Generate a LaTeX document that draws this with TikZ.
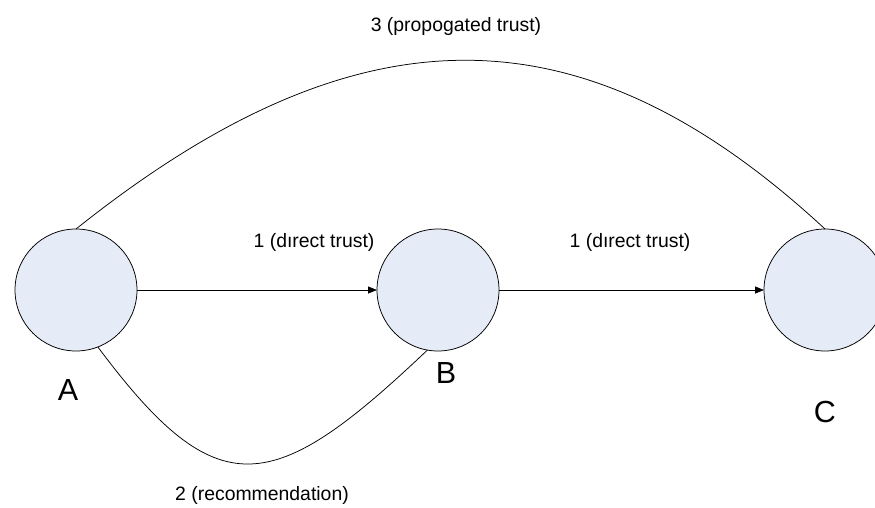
\documentclass[tikz,border=0pt]{standalone}
\usepackage{fontspec}
\setmainfont{Liberation Sans}
\usetikzlibrary{positioning}
\usetikzlibrary{arrows.meta}

\definecolor{peerfill}{RGB}{230,236,247}

\begin{document}
\begin{tikzpicture}[x=1pt,y=-1pt,>={Triangle[length=9pt,width=7pt]},line width=0.75pt,
	peer/.style={circle,draw=black,fill=peerfill,minimum size=122pt,inner sep=0pt,outer sep=0pt},
	edge txt/.style={anchor=base,inner sep=0pt,font=\fontsize{19.4}{23}\selectfont},
	peer txt/.style={anchor=base,inner sep=0pt,font=\fontsize{30.5}{36}\selectfont}]
	\clip (0,0) rectangle (875,508);

	\node [peer] at (76,290) (A) {};
	\node [peer,right=240pt of A] (B) {};
	\node [peer,right=265pt of B] (C) {};

	\node [peer txt] at (68,400) (A_txt) {A};
	\node [peer txt] at (446,383) (B_txt) {B};
	\node [peer txt] at (825,422) (C_txt) {C};

	\draw[->] (A) -- (B);
	\draw[->] (B) -- (C);
	\draw (A.north) .. controls +(282,-225) and +(-243,-225) .. (C.north);
	\draw (A.-69) .. controls +(120,161) and +(-155,147) .. (B.-100);

	\node [edge txt] at (314,247) (ab_txt) {1 (dırect trust)};
	\node [edge txt] at (630,247) (bc_txt) {1 (dırect trust)};
	\node [edge txt] at (456,32) (ac_txt) {3 (propogated trust)};
	\node [edge txt] at (262,500) (rec_txt) {2 (recommendation)};
\end{tikzpicture}
\end{document}
